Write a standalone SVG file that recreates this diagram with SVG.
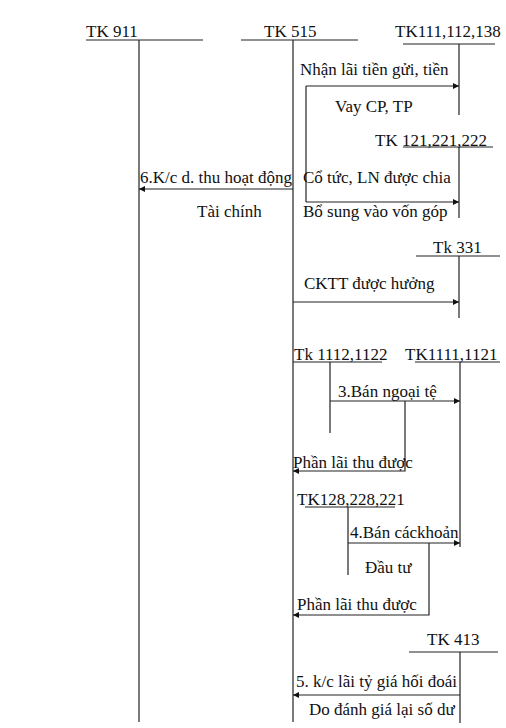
<svg xmlns="http://www.w3.org/2000/svg" width="506" height="728" viewBox="0 0 506 728">
<defs>
<style>
text{font-family:"Liberation Serif","Times New Roman",serif;font-size:17px;fill:#111}
.ln{stroke:#222;stroke-width:1.2;fill:none}
.cn{stroke:#222;stroke-width:1.2;fill:none;marker-end:url(#ah)}
</style>
<marker id="ah" viewBox="0 0 10 10" refX="10" refY="5" markerWidth="9" markerHeight="6" markerUnits="userSpaceOnUse" orient="auto">
<path d="M0,0 L10,5 L0,10 Z" fill="#111"/>
</marker>
</defs>
<rect width="506" height="728" fill="#fff"/>
<g id="tk911">
<text x="86" y="37">TK 911</text>
<path class="ln" d="M86,40 H203 M139,40 V722"/>
</g>
<g id="tk515">
<text x="264" y="37">TK 515</text>
<path class="ln" d="M241,40 H358 M293,40 V722"/>
</g>
<g id="tk111">
<text x="395" y="37">TK111,112,138</text>
<path class="ln" d="M403,44 H495 M459,44 V115"/>
</g>
<g id="tk121">
<text x="375" y="146">TK 121,221,222</text>
<path class="ln" d="M403,147 H493 M459,147 V218"/>
</g>
<g id="tk331">
<text x="433" y="253">Tk 331</text>
<path class="ln" d="M416,256 H500 M459,256 V318"/>
</g>
<g id="tk1112">
<text x="294" y="360">Tk 1112,1122</text>
<path class="ln" d="M293,362 H382 M330,362 V433"/>
</g>
<g id="tk1111">
<text x="405" y="360">TK1111,1121</text>
<path class="ln" d="M415,362 H500 M460,362 V547"/>
</g>
<g id="tk128">
<text x="297" y="505">TK128,228,221</text>
<path class="ln" d="M305,507 H395 M348,507 V575"/>
</g>
<g id="tk413">
<text x="427" y="645">TK 413</text>
<path class="ln" d="M409,652 H498 M460,652 V723"/>
</g>
<g id="connectors">
<path class="ln" d="M306,86 V202"/>
<path class="cn" d="M306,86 H459"/>
<path class="cn" d="M306,202 H459"/>
<path class="cn" d="M293,189 H139"/>
<path class="cn" d="M293,302 H459"/>
<path class="cn" d="M330,401 H460"/>
<path class="cn" d="M405,401 V471 H293"/>
<path class="cn" d="M348,543 H460"/>
<path class="cn" d="M429,543 V615 H293"/>
<path class="cn" d="M460,695 H293"/>
<text x="300" y="75">Nhận lãi tiền gửi, tiền</text>
<text x="335" y="112">Vay CP, TP</text>
<text x="140" y="183">6.K/c d. thu hoạt động</text>
<text x="197" y="217">Tài chính</text>
<text x="303" y="183">Cổ tức, LN được chia</text>
<text x="303" y="217">Bổ sung vào vốn góp</text>
<text x="304" y="289">CKTT được hưởng</text>
<text x="338" y="397">3.Bán ngoại tệ</text>
<text x="293" y="468">Phần lãi thu được</text>
<text x="350" y="538">4.Bán cáckhoản</text>
<text x="365" y="573">Đầu tư</text>
<text x="297" y="610">Phần lãi thu được</text>
<text x="296" y="687">5. k/c lãi tỷ giá hối đoái</text>
<text x="309" y="715">Do đánh giá lại số dư</text>
</g>
</svg>
